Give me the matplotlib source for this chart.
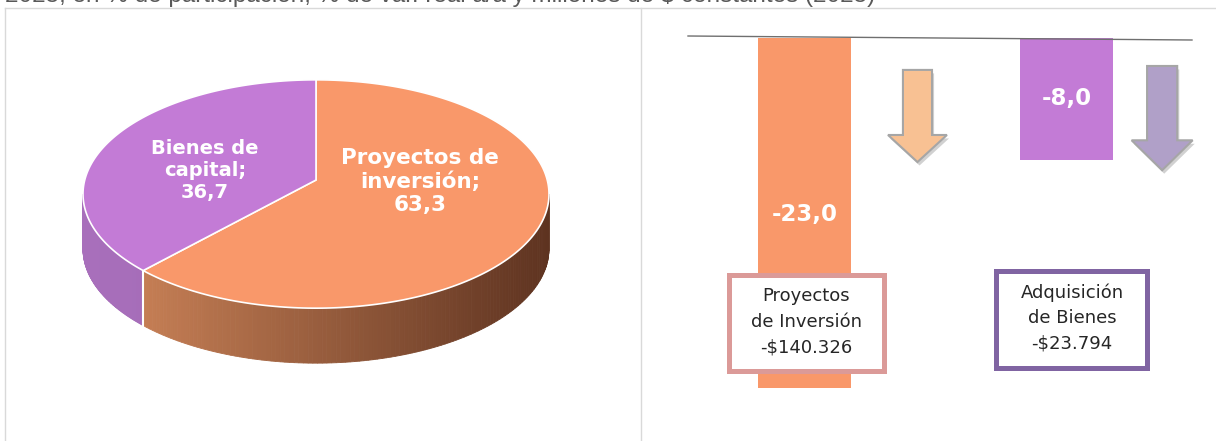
import numpy as np
import matplotlib
matplotlib.use("Agg")
import matplotlib.pyplot as plt
from matplotlib.patches import Polygon, Rectangle, FancyArrow
from matplotlib.colors import to_rgb
import matplotlib.patheffects as pe

# data
pie_labels = ["Proyectos de\ninversión;\n63,3", "Bienes de\ncapital;\n36,7"]
pie_shares = [63.3, 36.7]
bar_cats = ["Proyectos\nde Inversión\n-$140.326", "Adquisición\nde Bienes\n-$23.794"]
bar_vals = [-23.0, -8.0]
bar_text = ["-23,0", "-8,0"]
title = "2025, en % de participación, % de var. real a/a y millones de $ constantes (2025)"

orange = "#F9986A"
purple = "#C37BD6"

W, H = 1216, 441
fig = plt.figure(figsize=(W / 100, H / 100), dpi=100)

# panel frames and the title line (cut off at the top, as in the source)
fig.add_artist(plt.Line2D([5 / W, 5 / W], [0, 1 - 8 / H], color="#D9D9D9", lw=1))
fig.add_artist(plt.Line2D([5 / W, 1], [1 - 8 / H, 1 - 8 / H], color="#D9D9D9", lw=1))
fig.add_artist(plt.Line2D([641 / W, 641 / W], [0, 1 - 8 / H], color="#D9D9D9", lw=1))
fig.text(5 / W, 1 - 2 / H, title, fontsize=17.5, color="#595959",
         family="Liberation Sans", va="baseline", ha="left")

# ---- 3d-looking pie ----
s = 233.0
cx, cy = 316, 194
ax1 = fig.add_axes([5 / W, 0, 635 / W, 1 - 8 / H])
ax1.set_xlim(-(cx - 5) / s, (640 - cx) / s)
ax1.set_ylim(-(H - cy) / s, (cy - 8) / s)
ax1.axis("off")

a, b, depth = 1.0, 0.49, 0.236
apex = (0, 0.06)

fr = np.array(pie_shares) / sum(pie_shares)
edges = 90 - 360 * np.concatenate([[0], np.cumsum(fr)])


def ell(t):
    t = np.radians(t)
    return a * np.cos(t), b * np.sin(t)


def side_strips(t0, t1, c_left, c_right, n=120):
    ts = np.linspace(t0, t1, n + 1)
    cl, cr = np.array(to_rgb(c_left)), np.array(to_rgb(c_right))
    for i in range(n):
        xa, ya = ell(ts[i])
        xb, yb = ell(ts[i + 1])
        f = ((xa + xb) / 2 + 1) / 2
        col = cl + (cr - cl) * f
        ax1.add_patch(Polygon([(xa, ya), (xb, yb), (xb, yb - depth), (xa, ya - depth)],
                              closed=True, fc=col, ec=col, lw=0.6))


# front side walls (visible lower half)
split = edges[1]  # boundary between the two wedges
side_strips(split, 0, "#D4895C", "#5E3320")
side_strips(-180, split, "#A86FBB", "#9A62AE")
xs, ys = ell(split)
ax1.plot([xs, xs], [ys, ys - depth], color="white", lw=1.5)

# top faces
cols = [orange, purple]
for i in range(len(pie_shares)):
    ts = np.linspace(edges[i], edges[i + 1], 200)
    px, py = ell(ts)
    pts = [apex] + list(zip(px, py))
    ax1.add_patch(Polygon(pts, closed=True, fc=cols[i], ec="white", lw=1.2))

lab_pos = [(0.446, 0.052), (-0.476, 0.103)]
lab_size = [15.5, 14]
for (lx, ly), txt, fs in zip(lab_pos, pie_labels, lab_size):
    ax1.text(lx, ly, txt, ha="center", va="center", color="white",
             fontsize=fs, fontweight="bold", linespacing=1.2)

# ---- bar panel ----
px_per_unit = 15.2
top_px, bot_px = 38, 420
ax2 = fig.add_axes([688 / W, 1 - bot_px / H, (1192 - 688) / W, (bot_px - top_px) / H])
ax2.set_xlim(-0.445, 1.479)
ax2.set_ylim(-(bot_px - top_px) / px_per_unit, 0)
ax2.axis("off")

x = np.arange(len(bar_vals))
ax2.bar(x, bar_vals, width=0.355, color=[orange, purple], zorder=1)
ax2.plot([0, 1], [1 + 2 / 382, 1 - 2 / 382], transform=ax2.transAxes,
         color="#6F6F6F", lw=1, clip_on=False, zorder=3)

label_y = [-11.64, -4.01]
for xi, yi, t in zip(x, label_y, bar_text):
    ax2.text(xi, yi, t, ha="center", va="center", color="white",
             fontsize=16.5, fontweight="bold", zorder=4)

# decorative down arrows
shadow = [pe.withSimplePatchShadow(offset=(1.5, -2.5), shadow_rgbFace="#000000", alpha=0.18)]
arrows = [(0.431, -2.1, -8.16, 0.111, 0.225, 1.78, "#F8C193"),
          (1.365, -1.84, -8.7, 0.115, 0.233, 1.97, "#B0A0C8")]
for ax_, y0, y1, w, hw, hl, fc in arrows:
    ar = FancyArrow(ax_, y0, 0, y1 - y0, width=w, head_width=hw, head_length=hl,
                    length_includes_head=True, fc=fc, ec="#A6A6A6", lw=1.5, zorder=3)
    ar.set_path_effects(shadow)
    ar.set_clip_on(False)
    ax2.add_patch(ar)

# labelled boxes
boxes = [(-0.290, 0.302, -21.875, -15.56, "#DB9A98", 0.006, -18.68),
         (0.729, 1.309, -21.68, -15.30, "#8064A2", 1.021, -18.42)]
for (x0, x1, y0, y1, ec, tx, ty), txt in zip(boxes, bar_cats):
    ax2.add_patch(Rectangle((x0, y0), x1 - x0, y1 - y0, fc="white", ec=ec,
                            lw=3.6, zorder=5))
    ax2.text(tx, ty, txt, ha="center", va="center", fontsize=13, color="#262626",
             linespacing=1.55, zorder=6)

fig.savefig("out.png", dpi=100)
